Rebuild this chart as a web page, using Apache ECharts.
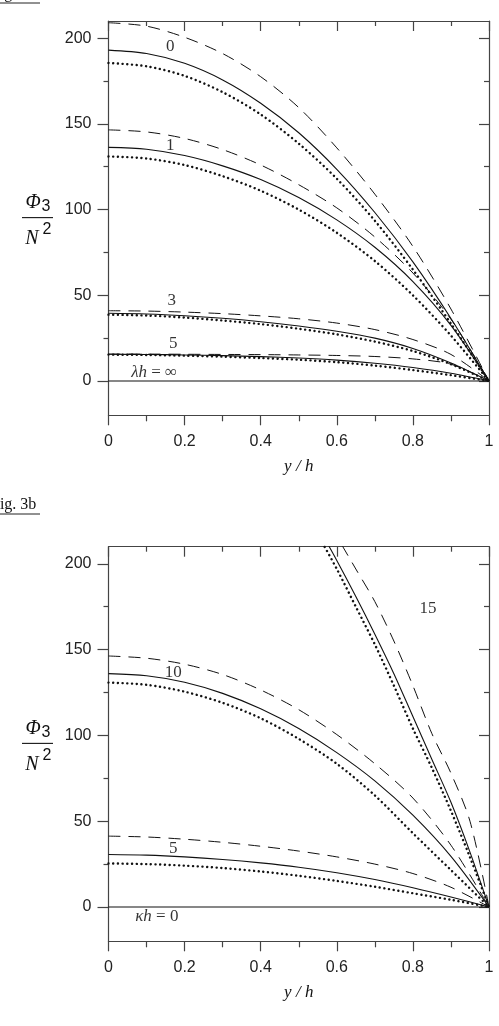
<!DOCTYPE html>
<html>
<head>
<meta charset="utf-8">
<script src="https://cdn.jsdelivr.net/npm/echarts@6/dist/echarts.min.js"></script>
<style>
html, body { margin: 0; padding: 0; background: #fff; }
#chart { width: 499px; height: 1026px; }
</style>
</head>
<body>
<div id="chart"></div>
<script>
// y/h sample positions
const yh = [0, 0.1, 0.2, 0.3, 0.4, 0.5, 0.6, 0.7, 0.8, 0.9, 1]
const yh15 = [0.5, 0.55, 0.6, 0.65, 0.7, 0.75, 0.8, 0.85, 0.9, 0.95, 1]

// Fig. 3a : lambda h = 0, 1, 3, 5, inf
const a0dash = [209, 207, 200.5, 191, 177.5, 159.5, 136, 109, 78.5, 42, 0]
const a0solid = [193, 191, 185.3, 175.6, 162, 144.8, 123.5, 98.3, 69.5, 36.5, 0]
const a0dot = [185.5, 183.6, 178, 168.5, 155.5, 138.5, 118, 93.5, 65, 33.5, 0]
const a1dash = [146.5, 145.3, 141.5, 135, 126, 114.5, 101, 84, 63, 36, 0]
const a1solid = [136.3, 135.2, 131.5, 125.5, 117.5, 107, 94, 78, 58, 32.5, 0]
const a1dot = [131, 129.8, 126, 119.5, 111, 100, 86.5, 70, 50, 26.5, 0]
const a3dash = [41, 40.8, 40.2, 39.3, 38, 36.3, 33.8, 30, 24.2, 15.5, 0]
const a3solid = [39.5, 39.1, 38.1, 36.6, 34.6, 32.1, 29, 25, 19, 10.5, 0]
const a3dot = [38.7, 38.2, 37, 35.3, 33.2, 30.5, 27.2, 23, 17.5, 9.8, 0]
const a5dash = [15.7, 15.7, 15.6, 15.5, 15.4, 15.2, 14.9, 14.3, 12.9, 9.8, 0]
const a5solid = [15.6, 15.5, 15.2, 14.8, 14.2, 13.4, 12.2, 10.4, 7.9, 4.5, 0]
const a5dot = [15.4, 15.2, 14.8, 14.2, 13.4, 12.4, 11, 9, 6.4, 3.4, 0]
const aInf = [0, 0, 0, 0, 0, 0, 0, 0, 0, 0, 0]

// Fig. 3b : kappa h = 0, 5, 10, 15
const b0 = [0, 0, 0, 0, 0, 0, 0, 0, 0, 0, 0]
const b5dash = [41.3, 40.8, 39.5, 37.7, 35.4, 32.6, 29.2, 25, 19.5, 11.5, 0]
const b5solid = [30.6, 30.2, 29.2, 27.7, 25.7, 23.2, 20, 16, 11.2, 5.8, 0]
const b5dot = [25.4, 25, 24.1, 22.7, 20.7, 18.2, 15.2, 11.8, 8, 4.2, 0]
const b10dash = [146.3, 145, 141.5, 135.5, 126.5, 115, 100.5, 83.5, 63.5, 36, 0]
const b10solid = [136, 134.8, 131, 124.5, 115.5, 104, 90, 73.5, 53.5, 29.5, 0]
const b10dot = [130.8, 129.5, 125.5, 119, 110, 98, 83.5, 65, 43, 21.5, 0]
const b15dash = [250, 235, 216, 197, 178, 155, 129, 101, 78, 50, 0]
const b15solid = [242, 222, 202, 181, 159, 136, 111, 86, 61, 32, 0]
const b15dot = [236, 217, 197, 175, 153, 129, 104, 81, 56, 29, 0]

// ticks
const yTicks = [0, 50, 100, 150, 200]
const yMinor = [25, 75, 125, 175]

// curve labels [text, y/h, value]
const labelsA = [['0', 0.162, 195], ['1', 0.162, 137.6], ['3', 0.166, 46.8], ['5', 0.17, 22], ['{i|λh} = ∞', 0.12, 4.8]]
const labelsB = [['15', 0.84, 173.7], ['10', 0.17, 136.8], ['5', 0.17, 34.3], ['{i|κh} = 0', 0.127, -5.6]]

const serif = '"Liberation Serif", "Times New Roman", serif'
const sans = '"Liberation Sans", Arial, sans-serif'
const ink = '#111'
const axisInk = '#444'

function pairs(xs, vs) {
    return xs.map((x, i) => [x, vs[i]])
}

function xAxes(g) {
    return [
        {
            gridIndex: g, type: 'value', position: 'bottom', min: 0, max: 1, interval: 0.2,
            axisLine: { onZero: false, lineStyle: { color: axisInk, width: 1.2 } },
            axisTick: { length: 10, lineStyle: { color: axisInk, width: 1.2 } },
            minorTick: { show: true, splitNumber: 2, length: 6, lineStyle: { color: axisInk, width: 1.2 } },
            axisLabel: { margin: 18, fontSize: 16, fontFamily: sans, color: '#222' },
            splitLine: { show: false },
            name: 'y / h', nameLocation: 'middle', nameGap: 43,
            nameTextStyle: { fontFamily: serif, fontStyle: 'italic', fontSize: 17, color: '#111' },
        },
        {
            gridIndex: g, type: 'value', position: 'top', min: 0, max: 1, interval: 0.2,
            axisLine: { onZero: false, lineStyle: { color: axisInk, width: 1.2 } },
            axisTick: { inside: true, length: 10, lineStyle: { color: axisInk, width: 1.2 } },
            minorTick: { show: true, splitNumber: 2, length: 5, lineStyle: { color: axisInk, width: 1.2 } },
            axisLabel: { show: false },
            splitLine: { show: false },
        },
    ]
}

function yAxes(g) {
    const base = { gridIndex: g, type: 'value', min: -20, max: 210, splitLine: { show: false } }
    return [
        Object.assign({}, base, {
            position: 'left',
            axisLine: { onZero: false, lineStyle: { color: axisInk, width: 1.2 } },
            axisTick: { customValues: yTicks, length: 11, lineStyle: { color: axisInk, width: 1.2 } },
            axisLabel: { customValues: yTicks, margin: 17, fontSize: 16, fontFamily: sans, color: '#222' },
        }),
        Object.assign({}, base, {
            position: 'left',
            axisLine: { show: false, onZero: false },
            axisTick: { customValues: yMinor, length: 5, lineStyle: { color: axisInk, width: 1.2 } },
            axisLabel: { show: false },
        }),
        Object.assign({}, base, {
            position: 'right',
            axisLine: { onZero: false, lineStyle: { color: axisInk, width: 1.2 } },
            axisTick: { inside: true, customValues: yTicks, length: 10, lineStyle: { color: axisInk, width: 1.2 } },
            axisLabel: { show: false },
        }),
        Object.assign({}, base, {
            position: 'right',
            axisLine: { show: false, onZero: false },
            axisTick: { inside: true, customValues: yMinor, length: 5, lineStyle: { color: axisInk, width: 1.2 } },
            axisLabel: { show: false },
        }),
    ]
}

const styles = {
    dash: { color: ink, width: 1, type: [12, 8] },
    solid: { color: ink, width: 1.1, type: 'solid' },
    dot: { color: ink, width: 2.4, type: [0.1, 4.6], cap: 'round' },
}

function curve(g, xs, vs, kind) {
    return {
        type: 'line',
        xAxisIndex: g * 2,
        yAxisIndex: g * 4,
        data: pairs(xs, vs),
        showSymbol: false,
        smooth: 0.3,
        lineStyle: styles[kind],
        silent: true,
        z: kind == 'dot' ? 3 : 2,
    }
}

function labelSeries(g, list) {
    return {
        type: 'scatter',
        xAxisIndex: g * 2,
        yAxisIndex: g * 4,
        symbolSize: 1,
        itemStyle: { color: 'transparent' },
        silent: true,
        data: list.map((l) => ({ name: l[0], value: [l[1], l[2]] })),
        label: {
            show: true,
            position: 'inside',
            formatter: '{b}',
            fontFamily: serif,
            fontSize: 17,
            color: '#000',
            rich: { i: { fontFamily: serif, fontStyle: 'italic', fontSize: 17, color: '#000' } },
        },
    }
}

const series = [
    curve(0, yh, a0dash, 'dash'), curve(0, yh, a0solid, 'solid'), curve(0, yh, a0dot, 'dot'),
    curve(0, yh, a1dash, 'dash'), curve(0, yh, a1solid, 'solid'), curve(0, yh, a1dot, 'dot'),
    curve(0, yh, a3dash, 'dash'), curve(0, yh, a3solid, 'solid'), curve(0, yh, a3dot, 'dot'),
    curve(0, yh, a5dash, 'dash'), curve(0, yh, a5solid, 'solid'), curve(0, yh, a5dot, 'dot'),
    curve(0, yh, aInf, 'solid'),
    curve(1, yh, b0, 'solid'),
    curve(1, yh, b5dash, 'dash'), curve(1, yh, b5solid, 'solid'), curve(1, yh, b5dot, 'dot'),
    curve(1, yh, b10dash, 'dash'), curve(1, yh, b10solid, 'solid'), curve(1, yh, b10dot, 'dot'),
    curve(1, yh15, b15dash, 'dash'), curve(1, yh15, b15solid, 'solid'), curve(1, yh15, b15dot, 'dot'),
    labelSeries(0, labelsA),
    labelSeries(1, labelsB),
]

var myChart = echarts.init(document.getElementById('chart'), null, { renderer: 'canvas' })
var option = {
    animation: false,
    backgroundColor: '#fff',
    grid: [
        { left: 108.5, top: 21, width: 380.5, height: 394.3 },
        { left: 108.5, top: 546.7, width: 380.5, height: 394.6 },
    ],
    xAxis: [].concat(xAxes(0), xAxes(1)),
    yAxis: [].concat(yAxes(0), yAxes(1)),
    series: series,
}
myChart.setOption(option)

// figure captions and the Phi_3 / N^2 axis titles
function fraction(y100) {
    const t = (text, x, y, font, size, italic) => ({
        type: 'text', x: x, y: y, silent: true,
        style: { text: text, fontFamily: font, fontSize: size, fontStyle: italic ? 'italic' : 'normal', fill: '#111', align: 'center', verticalAlign: 'middle' },
    })
    return [
        t('Φ', 33, y100 - 7, serif, 20, true),
        t('3', 46, y100 - 3, sans, 16, false),
        { type: 'line', silent: true, shape: { x1: 22, y1: y100 + 8, x2: 53, y2: y100 + 8 }, style: { stroke: '#222', lineWidth: 1.2 } },
        t('N', 32, y100 + 29, serif, 20, true),
        t('2', 47, y100 + 20, sans, 16, false),
    ]
}
function caption(text, y) {
    return [
        { type: 'text', x: -9, y: y, silent: true, style: { text: text, fontFamily: serif, fontSize: 16, fill: '#111', verticalAlign: 'bottom' } },
        { type: 'line', silent: true, shape: { x1: 0, y1: y + 1, x2: 40, y2: y + 1 }, style: { stroke: '#222', lineWidth: 1 } },
    ]
}
var yTop = myChart.convertToPixel({ yAxisIndex: 0 }, 100)
var yBot = myChart.convertToPixel({ yAxisIndex: 4 }, 100)
myChart.setOption({
    graphic: [].concat(fraction(yTop), fraction(yBot), caption('Fig. 3a', 2), caption('Fig. 3b', 513)),
})
</script>
</body>
</html>
